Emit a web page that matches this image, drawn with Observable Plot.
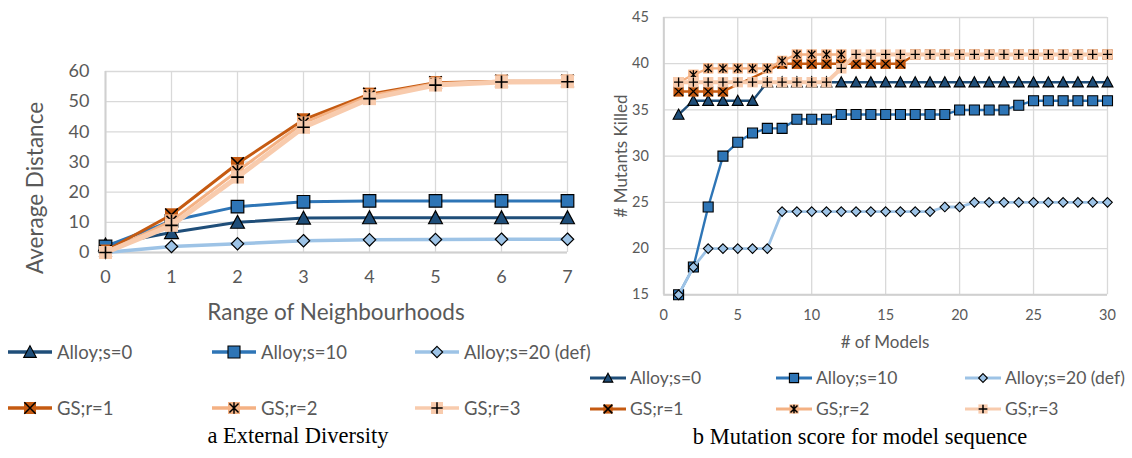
<!DOCTYPE html>
<html><head><meta charset="utf-8">
<script src="https://cdn.jsdelivr.net/npm/d3@7"></script>
<script src="https://cdn.jsdelivr.net/npm/@observablehq/plot@0.6"></script>
<style>
html,body{margin:0;padding:0;background:#fff;}
#root{position:relative;width:1132px;height:458px;overflow:hidden;font-family:Lato,"Open Sans",sans-serif;color:#595959;}
.t{position:absolute;white-space:nowrap;line-height:1;}
.cap{font-family:"Liberation Serif",serif;color:#000;}
</style></head><body><div id="root"></div>
<script>
// ---------- DATA ----------
const seriesNames = ["Alloy;s=0", "Alloy;s=10", "Alloy;s=20 (def)", "GS;r=1", "GS;r=2", "GS;r=3"];

// (a) External Diversity
const rangeX = [0, 1, 2, 3, 4, 5, 6, 7];
const divAlloyS0  = [2.5, 6.6, 10, 11.4, 11.5, 11.5, 11.5, 11.5];
const divAlloyS10 = [2, 10.5, 15.2, 16.8, 17.1, 17.1, 17.1, 17.1];
const divAlloyS20 = [0, 2, 2.9, 3.9, 4.2, 4.3, 4.4, 4.4];
const divGS1 = [0.5, 12.5, 29.5, 44, 52.5, 56.3, 56.8, 56.8];
const divGS2 = [0, 10.5, 27, 43, 52, 56, 56.6, 56.7];
const divGS3 = [0, 9, 25, 41.5, 51, 55.5, 56.5, 56.6];
const divXTicks = [0, 1, 2, 3, 4, 5, 6, 7];
const divYTicks = [0, 10, 20, 30, 40, 50, 60];

// (b) Mutation score for model sequence
const models = [1,2,3,4,5,6,7,8,9,10,11,12,13,14,15,16,17,18,19,20,21,22,23,24,25,26,27,28,29,30];
const mutAlloyS0  = [34.5,36,36,36,36,36,38,38,38,38,38,38,38,38,38,38,38,38,38,38,38,38,38,38,38,38,38,38,38,38];
const mutAlloyS10 = [15,18,24.5,30,31.5,32.5,33,33,34,34,34,34.5,34.5,34.5,34.5,34.5,34.5,34.5,34.5,35,35,35,35,35.5,36,36,36,36,36,36];
const mutAlloyS20 = [15,18,20,20,20,20,20,24,24,24,24,24,24,24,24,24,24,24,24.5,24.5,25,25,25,25,25,25,25,25,25,25];
const mutGS1 = [37,37,37,37,null,null,null,40,40,40,40,40,40,40,40,40,41,41,41,41,41,41,41,41,41,41,41,41,41,41];
const mutGS2 = [38,38.8,39.5,39.5,39.5,39.5,39.5,40.3,41,41,41,41,null,null,null,null,null,null,null,null,null,null,null,null,null,null,null,null,null,null];
const mutGS3 = [38,38,38,38,38,38,38,38,38,38,38,39.5,41,41,41,41,41,41,41,41,41,41,41,41,41,41,41,41,41,41];
const mutXTicks = [0, 5, 10, 15, 20, 25, 30];
const mutYTicks = [15, 20, 25, 30, 35, 40, 45];

// ---------- SYMBOLS ----------
const R = s => Math.sqrt(s / Math.PI);
const sym = {
  square:   {draw(c, s) { const r = R(s); c.moveTo(-r, -r); c.lineTo(r, -r); c.lineTo(r, r); c.lineTo(-r, r); c.closePath(); }},
  triangle: {draw(c, s) { const r = R(s); c.moveTo(0, -r * 1.05); c.lineTo(r * 1.05, r * 0.9); c.lineTo(-r * 1.05, r * 0.9); c.closePath(); }},
  diamond:  {draw(c, s) { const r = R(s); c.moveTo(0, -r); c.lineTo(r, 0); c.lineTo(0, r); c.lineTo(-r, 0); c.closePath(); }},
  times:    {draw(c, s) { const r = R(s); c.moveTo(-r, -r); c.lineTo(r, r); c.moveTo(-r, r); c.lineTo(r, -r); }},
  plus:     {draw(c, s) { const r = R(s); c.moveTo(-r, 0); c.lineTo(r, 0); c.moveTo(0, -r); c.lineTo(0, r); }},
  star:     {draw(c, s) { const r = R(s); c.moveTo(-r*0.8, -r*0.8); c.lineTo(r*0.8, r*0.8); c.moveTo(-r*0.8, r*0.8); c.lineTo(r*0.8, -r*0.8); c.moveTo(0, -r); c.lineTo(0, r); }}
};

const styles = [
  {color: "#1f4e79", shape: "triangle", lw: 3},
  {color: "#2e75b6", shape: "square", lw: 3},
  {color: "#9dc3e6", shape: "diamond", lw: 3.5},
  {color: "#c55a11", shape: "square", glyph: "times", lw: 3},
  {color: "#f4b183", shape: "square", glyph: "star", lw: 3},
  {color: "#f8cbad", shape: "square", glyph: "plus", lw: 5}
];

function rows(xs, ys) {
  return xs.map((x, i) => ({x, y: ys[i]})).filter(d => d.y != null);
}

function seriesMarks(data, st, opt) {
  const marks = [Plot.line(data, {x: "x", y: "y", stroke: st.color, strokeWidth: st.lw * opt.lwScale, strokeLinejoin: "round"})];
  if (st.glyph) {
    marks.push(Plot.dot(data, {x: "x", y: "y", symbol: sym.square, r: opt.gsR, fill: st.color, stroke: "none"}));
    marks.push(Plot.dot(data, {x: "x", y: "y", symbol: sym[st.glyph], r: opt.glyphR, fill: "none", stroke: "#000", strokeWidth: opt.glyphW}));
  } else {
    const r = st.shape === "triangle" ? opt.triR : st.shape === "diamond" ? opt.diaR : opt.sqR;
    marks.push(Plot.dot(data, {x: "x", y: "y", symbol: sym[st.shape], r, fill: st.color, stroke: "#000", strokeWidth: opt.borderW}));
  }
  return marks;
}

const root = document.getElementById("root");
function place(el, left, top) { el.style.position = "absolute"; el.style.left = left + "px"; el.style.top = top + "px"; root.appendChild(el); return el; }
function text(str, cx, cy, size, opts = {}) {
  const d = document.createElement("div");
  d.className = "t" + (opts.cls ? " " + opts.cls : "");
  d.textContent = str;
  d.style.fontSize = size + "px";
  d.style.left = cx + "px"; d.style.top = cy + "px";
  d.style.transform = (opts.anchor === "start" ? "translate(0,-50%)" : "translate(-50%,-50%)") + (opts.rotate ? " rotate(-90deg)" : "");
  root.appendChild(d);
  return d;
}

// ---------- LEFT CHART ----------
const divSeries = [divAlloyS0, divAlloyS10, divAlloyS20, divGS1, divGS2, divGS3];
const leftOpt = {lwScale: 1, gsR: 6.5, glyphR: 6.3, glyphW: 1.6, triR: 6.6, diaR: 6.2, sqR: 6.3, borderW: 1.2};
const leftChart = Plot.plot({
  width: 590, height: 330,
  marginLeft: 105, marginRight: 23, marginTop: 71, marginBottom: 78,
  style: {fontFamily: "Lato, sans-serif", fontSize: "18px", color: "#595959", background: "transparent", overflow: "visible"},
  x: {domain: [0, 7], ticks: divXTicks, tickSize: 0, tickPadding: 18, label: null, tickFormat: d => String(d)},
  y: {domain: [0, 60], ticks: divYTicks, tickSize: 0, tickPadding: 16, label: null, tickFormat: d => String(d)},
  marks: [
    Plot.ruleX(divXTicks, {stroke: "#d9d9d9", strokeWidth: 1.3}),
    Plot.ruleY(divYTicks, {stroke: "#d9d9d9", strokeWidth: 1.3}),
    Plot.ruleY([0], {stroke: "#d0d0d0", strokeWidth: 2}),
    Plot.ruleX([0], {stroke: "#d0d0d0", strokeWidth: 2}),
    ...divSeries.flatMap((ys, i) => seriesMarks(rows(rangeX, ys), styles[i], leftOpt))
  ]
});
place(leftChart, 0, 0);
text("Average Distance", 35, 188, 22.5, {rotate: true});
text("Range of Neighbourhoods", 336, 312, 22.5);

// ---------- RIGHT CHART ----------
const mutSeries = [mutAlloyS0, mutAlloyS10, mutAlloyS20, mutGS1, mutGS2, mutGS3];
const rightOpt = {lwScale: 0.8, gsR: 5.2, glyphR: 4.6, glyphW: 1.3, triR: 5.2, diaR: 4.8, sqR: 5, borderW: 1.1};
const rightChart = Plot.plot({
  width: 542, height: 330,
  marginLeft: 73.3, marginRight: 25, marginTop: 17, marginBottom: 35.7,
  style: {fontFamily: "Lato, sans-serif", fontSize: "14.5px", color: "#595959", background: "transparent", overflow: "visible"},
  x: {domain: [0, 30], ticks: mutXTicks, tickSize: 0, tickPadding: 15, label: null, tickFormat: d => String(d)},
  y: {domain: [15, 45], ticks: mutYTicks, tickSize: 0, tickPadding: 15, label: null, tickFormat: d => String(d)},
  marks: [
    Plot.ruleX(mutXTicks, {stroke: "#d9d9d9", strokeWidth: 1.3}),
    Plot.ruleY(mutYTicks, {stroke: "#d9d9d9", strokeWidth: 1.3}),
    Plot.ruleY([15], {stroke: "#d0d0d0", strokeWidth: 2}),
    Plot.ruleX([0], {stroke: "#d0d0d0", strokeWidth: 2}),
    ...mutSeries.flatMap((ys, i) => seriesMarks(rows(models, ys), styles[i], rightOpt))
  ]
});
place(rightChart, 590, 0);
text("# Mutants Killed", 620, 156, 17, {rotate: true});
text("# of Models", 885, 341, 17);

// ---------- LEGENDS ----------
function legendItem(i, x, yc, w, r, fs, textX, lw) {
  const st = styles[i];
  const h = 26;
  const svg = d3.create("svg").attr("width", w).attr("height", h).style("overflow", "visible");
  svg.append("line").attr("x1", 0).attr("x2", w).attr("y1", h / 2).attr("y2", h / 2)
    .attr("stroke", st.color).attr("stroke-width", lw);
  const g = svg.append("g").attr("transform", `translate(${w / 2},${h / 2})`);
  const shapeR = st.glyph ? r : (st.shape === "diamond" ? r * 0.95 : r);
  g.append("path").attr("d", d3.symbol().type(sym[st.shape]).size(Math.PI * shapeR * shapeR)())
    .attr("fill", st.color).attr("stroke", st.glyph ? "none" : "#000").attr("stroke-width", 1.1);
  if (st.glyph) {
    g.append("path").attr("d", d3.symbol().type(sym[st.glyph]).size(Math.PI * r * r * 0.9)())
      .attr("fill", "none").attr("stroke", "#000").attr("stroke-width", 1.5);
  }
  place(svg.node(), x, yc - h / 2);
  text(seriesNames[i], textX, yc, fs, {anchor: "start"});
}
// left legend
const lx = [8, 212, 415];
[0, 1, 2].forEach((i, k) => legendItem(i, lx[k], 352, 44, 6, 18.5, lx[k] + 49, 3.5));
[3, 4, 5].forEach((i, k) => legendItem(i, lx[k], 408, 44, 6, 18.5, lx[k] + 49, 3.5));
// right legend
const rx = [590, 776, 965];
[0, 1, 2].forEach((i, k) => legendItem(i, rx[k], 378, 36, 4.6, 17.5, rx[k] + 40, 3));
[3, 4, 5].forEach((i, k) => legendItem(i, rx[k], 409, 36, 4.6, 17.5, rx[k] + 40, 3));

// ---------- CAPTIONS ----------
text("a External Diversity", 298, 436, 22.5, {cls: "cap"});
text("b Mutation score for model sequence", 860, 437, 22.5, {cls: "cap"});
</script>
</body></html>
